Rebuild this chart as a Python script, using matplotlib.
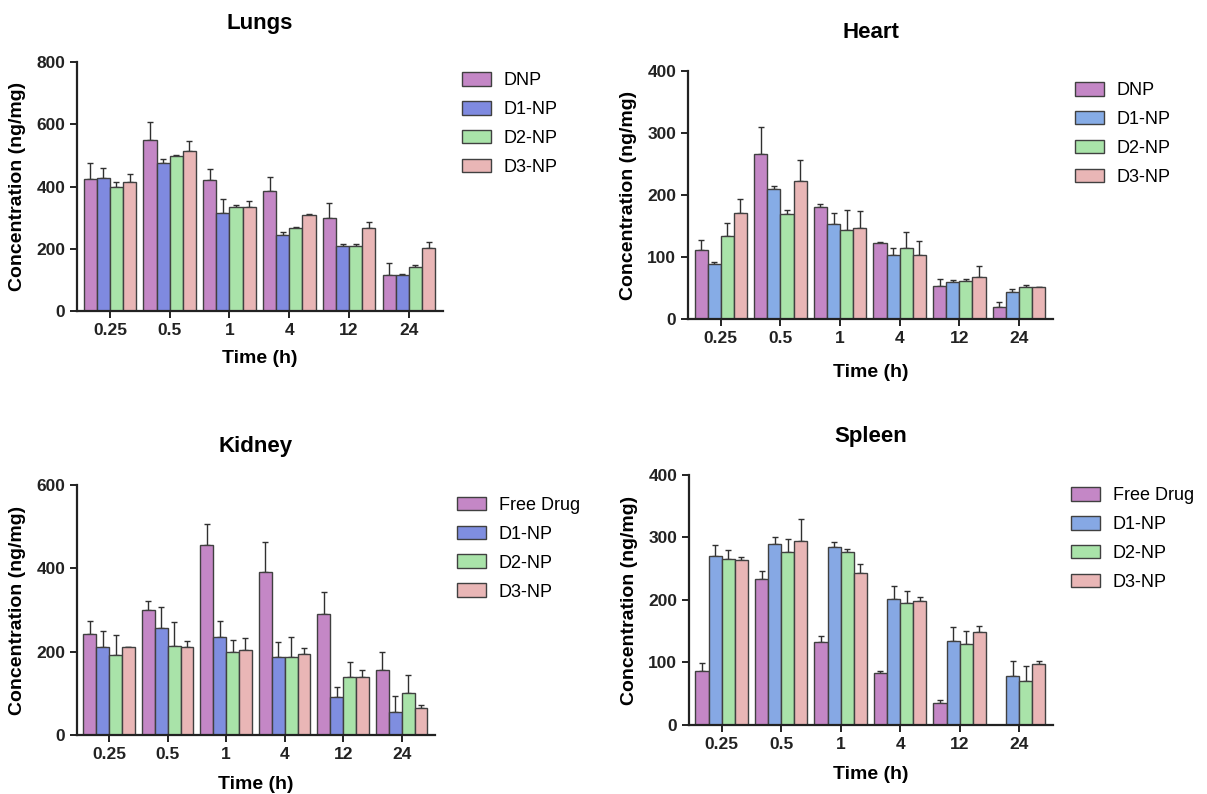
import numpy as np
import matplotlib
matplotlib.use("Agg")
import matplotlib.pyplot as plt

plt.rcParams['font.family'] = ['Liberation Sans', 'DejaVu Sans']

times = ["0.25", "0.5", "1", "4", "12", "24"]

# Lungs
lungs_labels = ["DNP", "D1-NP", "D2-NP", "D3-NP"]
lungs_mean = [
    [424, 551, 421, 384, 298, 117],
    [428, 475, 316, 244, 209, 115],
    [397, 499, 335, 266, 210, 142],
    [416, 515, 335, 309, 266, 201],
]
lungs_err = [
    [53, 55, 35, 48, 48, 36],
    [33, 13, 45, 9, 5, 5],
    [16, 3, 4, 3, 5, 7],
    [23, 30, 17, 4, 20, 22],
]

# Heart
heart_labels = ["DNP", "D1-NP", "D2-NP", "D3-NP"]
heart_mean = [
    [111, 267, 181, 122, 54, 20],
    [89, 209, 153, 103, 60, 43],
    [134, 169, 143, 114, 61, 52],
    [171, 223, 147, 103, 67, 51],
]
heart_err = [
    [16, 42, 5, 2, 10, 7],
    [3, 5, 18, 11, 3, 6],
    [21, 7, 33, 26, 3, 3],
    [23, 34, 27, 23, 18, 1],
]

# Kidney
kidney_labels = ["Free Drug", "D1-NP", "D2-NP", "D3-NP"]
kidney_mean = [
    [242, 300, 456, 392, 290, 156],
    [212, 256, 236, 188, 92, 56],
    [192, 214, 198, 188, 140, 102],
    [210, 210, 204, 194, 140, 64],
]
kidney_err = [
    [32, 22, 50, 72, 54, 42],
    [38, 50, 38, 36, 24, 38],
    [48, 56, 30, 48, 36, 42],
    [2, 16, 28, 15, 16, 8],
]

# Spleen
spleen_labels = ["Free Drug", "D1-NP", "D2-NP", "D3-NP"]
spleen_mean = [
    [87, 233, 132, 83, 35, 0],
    [271, 290, 284, 202, 135, 79],
    [265, 277, 277, 195, 129, 71],
    [264, 295, 243, 199, 149, 98],
]
spleen_err = [
    [12, 13, 11, 3, 5, 0],
    [17, 11, 9, 20, 22, 23],
    [15, 21, 5, 19, 21, 24],
    [5, 35, 15, 6, 10, 5],
]

fig = plt.figure(figsize=(12.07, 7.94), dpi=100)

panels = [
    # title, labels, mean, err, ymax, ystep, axes rect, colors, legend anchor, xlabel pad
    ("Lungs", lungs_labels, lungs_mean, lungs_err, 800, 200,
     [0.0638, 0.6083, 0.3032, 0.3136],
     ["#c487c6", "#7f8ae0", "#a9e3a9", "#e9b6b6"], (0.369, 0.930), 9),
    ("Heart", heart_labels, heart_mean, heart_err, 400, 100,
     [0.5700, 0.5982, 0.3024, 0.3123],
     ["#c487c6", "#86ace6", "#a9e3a9", "#e9b6b6"], (0.8775, 0.9175), 13),
    ("Kidney", kidney_labels, kidney_mean, kidney_err, 600, 200,
     [0.0638, 0.0743, 0.2966, 0.3149],
     ["#c487c6", "#7f8ee0", "#a9e3a9", "#e9b6b6"], (0.3654, 0.395), 10),
    ("Spleen", spleen_labels, spleen_mean, spleen_err, 400, 100,
     [0.5708, 0.0869, 0.3016, 0.3149],
     ["#c487c6", "#86a8e4", "#a9e3a9", "#e9b6b6"], (0.874, 0.4074), 10),
]

x = np.arange(len(times))
w = 0.22

for title, labels, mean, err, ymax, ystep, rect, colors, lpos, xpad in panels:
    ax = fig.add_axes(rect)
    for i in range(4):
        pos = x + (i - 1.5) * w
        ax.bar(pos, mean[i], w, color=colors[i], edgecolor="#404040",
               linewidth=1.0, label=labels[i], zorder=2)
        ax.errorbar(pos, mean[i], yerr=[np.zeros(6), err[i]], fmt="none",
                    ecolor="#303030", elinewidth=1.0, capsize=2,
                    capthick=1.0, zorder=1)
    ax.set_xlim(-0.55, 5.57)
    ax.set_ylim(0, ymax)
    ax.set_yticks(np.arange(0, ymax + 1, ystep))
    ax.set_xticks(x)
    ax.set_xticklabels(times)
    for s in ["top", "right"]:
        ax.spines[s].set_visible(False)
    for s in ["left", "bottom"]:
        ax.spines[s].set_linewidth(1.6)
        ax.spines[s].set_color("#222222")
    ax.tick_params(width=1.4, length=5, labelsize=12.5, colors="#222222")
    for lab in ax.get_xticklabels() + ax.get_yticklabels():
        lab.set_fontweight("bold")
    ax.set_xlabel("Time (h)", fontsize=14, fontweight="bold", labelpad=xpad)
    ax.set_ylabel("Concentration (ng/mg)", fontsize=14, fontweight="bold",
                  labelpad=7)
    ax.set_title(title, fontsize=16, fontweight="bold", pad=24)
    fig.legend(*ax.get_legend_handles_labels(), loc="upper left",
               bbox_to_anchor=lpos, bbox_transform=fig.transFigure,
               frameon=False, fontsize=13, handlelength=1.6,
               handleheight=0.8, labelspacing=0.65, handletextpad=0.7)

plt.savefig("out.png", dpi=100)
